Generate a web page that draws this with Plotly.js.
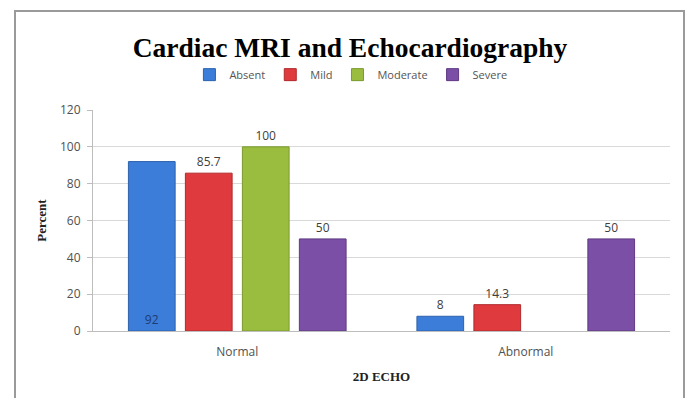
<!DOCTYPE html>
<html>
<head>
<meta charset="utf-8">
<script src="https://cdn.plot.ly/plotly-3.0.1.min.js"></script>
<style>
html,body{margin:0;padding:0;background:#fff;}
#chart{width:689px;height:398px;}
#frame{position:absolute;left:14px;top:10px;width:667px;height:400px;border-left:2px solid #9a9a9a;border-top:2px solid #9a9a9a;border-right:2px solid #9a9a9a;pointer-events:none;}
</style>
</head>
<body>
<div id="chart"></div>
<div id="frame"></div>
<script>
const categories = ['Normal', 'Abnormal'];
const seriesNames = ['Absent', 'Mild', 'Moderate', 'Severe'];
const absent = [92, 8];
const mild = [85.7, 14.3];
const moderate = [100, null];
const severe = [50, 50];
const absentLabels = ['92', '8'];
const mildLabels = ['85.7', '14.3'];
const moderateLabels = ['100', ''];
const severeLabels = ['50', '50'];

const colors = ['#3b7dd8', '#df3a3d', '#9abd40', '#7b4fa6'];
const lines = ['#2d62ad', '#b02a2d', '#7a9a2c', '#5e3a83'];
const values = [absent, mild, moderate, severe];
const labels = [absentLabels, mildLabels, moderateLabels, severeLabels];
const FONT = 'Open Sans, Liberation Sans, sans-serif';

const traces = seriesNames.map((name, i) => ({
  type: 'bar',
  name: name,
  x: categories,
  y: values[i],
  text: labels[i],
  textposition: i === 0 ? ['inside', 'outside'] : 'outside',
  insidetextanchor: 'start',
  textangle: 0,
  constraintext: 'none',
  cliponaxis: false,
  textfont: {family: FONT, size: 12, color: '#404040'},
  insidetextfont: {family: FONT, size: 12, color: '#1f3b70'},
  outsidetextfont: {family: FONT, size: 12, color: '#404040'},
  marker: {color: colors[i], line: {color: lines[i], width: 1}},
  hoverinfo: 'none'
}));

const layout = {
  width: 689,
  height: 398,
  margin: {l: 93, r: 19, t: 110, b: 67},
  paper_bgcolor: '#ffffff',
  plot_bgcolor: '#ffffff',
  barmode: 'group',
  bargap: 0.21,
  bargroupgap: 0.18,
  showlegend: true,
  title: {
    text: '<b>Cardiac MRI and Echocardiography</b>',
    font: {family: 'Liberation Serif, Times New Roman, serif', size: 27.5, color: '#000'},
    xref: 'container', x: 0.508, xanchor: 'center',
    yref: 'container', y: 0.88, yanchor: 'middle'
  },
  legend: {
    orientation: 'h',
    x: 0.447, xanchor: 'center',
    y: 1.16, yanchor: 'middle',
    font: {family: FONT, size: 11, color: '#555'},
    itemwidth: 30,
    tracegroupgap: 0,
    traceorder: 'normal'
  },
  xaxis: {
    type: 'category',
    showline: true,
    linecolor: '#bdbdbd',
    linewidth: 1,
    ticks: '',
    ticklabelstandoff: 10,
    tickfont: {family: FONT, size: 12, color: '#505050'},
    title: {
      text: '<b>2D ECHO</b>',
      font: {family: 'Liberation Serif, Times New Roman, serif', size: 13, color: '#222'},
      standoff: 12
    }
  },
  yaxis: {
    range: [0, 120],
    dtick: 20,
    showline: true,
    linecolor: '#bdbdbd',
    linewidth: 1,
    ticks: 'outside',
    ticklen: 5,
    tickcolor: '#bdbdbd',
    ticklabelstandoff: 4,
    gridcolor: '#d9d9d9',
    zeroline: false,
    tickfont: {family: FONT, size: 12, color: '#505050'},
    title: {
      text: '<b>Percent</b>',
      font: {family: 'Liberation Serif, Times New Roman, serif', size: 13, color: '#222'},
      standoff: 10
    }
  }
};

Plotly.newPlot('chart', traces, layout, {displayModeBar: false, staticPlot: true});
</script>
</body>
</html>
